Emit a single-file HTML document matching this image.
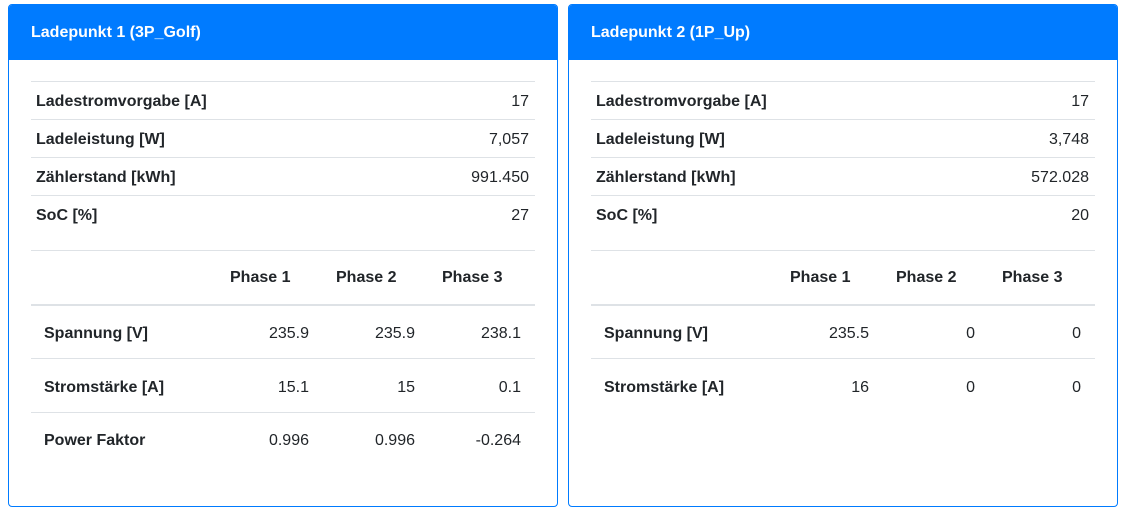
<!DOCTYPE html>
<html><head><meta charset="utf-8"><style>
*{box-sizing:border-box;margin:0;padding:0}
body{width:1128px;height:512px;background:#fff;font-family:"Liberation Sans",sans-serif;color:#212529;position:relative;overflow:hidden;font-size:16px}
.card{position:absolute;top:4px;width:550px;height:503px;border:1px solid #007bff;border-radius:4px;overflow:hidden}
.hd{height:55px;background:#007bff;color:#fff;font-weight:bold;font-size:16px;padding-left:22px;line-height:55px}
.l{position:absolute;left:22px;width:504px;height:1px;background:#dee2e6}
.t{position:absolute;white-space:nowrap;line-height:20px}
.b{font-weight:bold}
.r{text-align:right}
</style></head><body>
<div class="card" style="left:8px">
<div class="hd">Ladepunkt 1 (3P_Golf)</div>
<div class="l" style="top:76px"></div><div class="l" style="top:114px"></div><div class="l" style="top:152px"></div><div class="l" style="top:190px"></div><div class="l" style="top:245px"></div>
<div class="l" style="top:299px;height:2px"></div><div class="l" style="top:353px"></div><div class="l" style="top:407px"></div>
<div class="t b" style="left:27px;top:87px">Ladestromvorgabe [A]</div><div class="t r" style="right:28px;top:87px">17</div>
<div class="t b" style="left:27px;top:125px">Ladeleistung [W]</div><div class="t r" style="right:28px;top:125px">7,057</div>
<div class="t b" style="left:27px;top:163px">Zählerstand [kWh]</div><div class="t r" style="right:28px;top:163px">991.450</div>
<div class="t b" style="left:27px;top:201px">SoC [%]</div><div class="t r" style="right:28px;top:201px">27</div>
<div class="t b" style="left:221px;top:263px">Phase 1</div><div class="t b" style="left:327px;top:263px">Phase 2</div><div class="t b" style="left:433px;top:263px">Phase 3</div>
<div class="t b" style="left:35px;top:319px">Spannung [V]</div><div class="t" style="right:248px;top:319px">235.9</div><div class="t" style="right:142px;top:319px">235.9</div><div class="t" style="right:36px;top:319px">238.1</div>
<div class="t b" style="left:35px;top:373px">Stromstärke [A]</div><div class="t" style="right:248px;top:373px">15.1</div><div class="t" style="right:142px;top:373px">15</div><div class="t" style="right:36px;top:373px">0.1</div>
<div class="t b" style="left:35px;top:426px">Power Faktor</div><div class="t" style="right:248px;top:426px">0.996</div><div class="t" style="right:142px;top:426px">0.996</div><div class="t" style="right:36px;top:426px">-0.264</div>
</div>
<div class="card" style="left:568px">
<div class="hd">Ladepunkt 2 (1P_Up)</div>
<div class="l" style="top:76px"></div><div class="l" style="top:114px"></div><div class="l" style="top:152px"></div><div class="l" style="top:190px"></div><div class="l" style="top:245px"></div>
<div class="l" style="top:299px;height:2px"></div><div class="l" style="top:353px"></div>
<div class="t b" style="left:27px;top:87px">Ladestromvorgabe [A]</div><div class="t r" style="right:28px;top:87px">17</div>
<div class="t b" style="left:27px;top:125px">Ladeleistung [W]</div><div class="t r" style="right:28px;top:125px">3,748</div>
<div class="t b" style="left:27px;top:163px">Zählerstand [kWh]</div><div class="t r" style="right:28px;top:163px">572.028</div>
<div class="t b" style="left:27px;top:201px">SoC [%]</div><div class="t r" style="right:28px;top:201px">20</div>
<div class="t b" style="left:221px;top:263px">Phase 1</div><div class="t b" style="left:327px;top:263px">Phase 2</div><div class="t b" style="left:433px;top:263px">Phase 3</div>
<div class="t b" style="left:35px;top:319px">Spannung [V]</div><div class="t" style="right:248px;top:319px">235.5</div><div class="t" style="right:142px;top:319px">0</div><div class="t" style="right:36px;top:319px">0</div>
<div class="t b" style="left:35px;top:373px">Stromstärke [A]</div><div class="t" style="right:248px;top:373px">16</div><div class="t" style="right:142px;top:373px">0</div><div class="t" style="right:36px;top:373px">0</div>
</div>
</body></html>
